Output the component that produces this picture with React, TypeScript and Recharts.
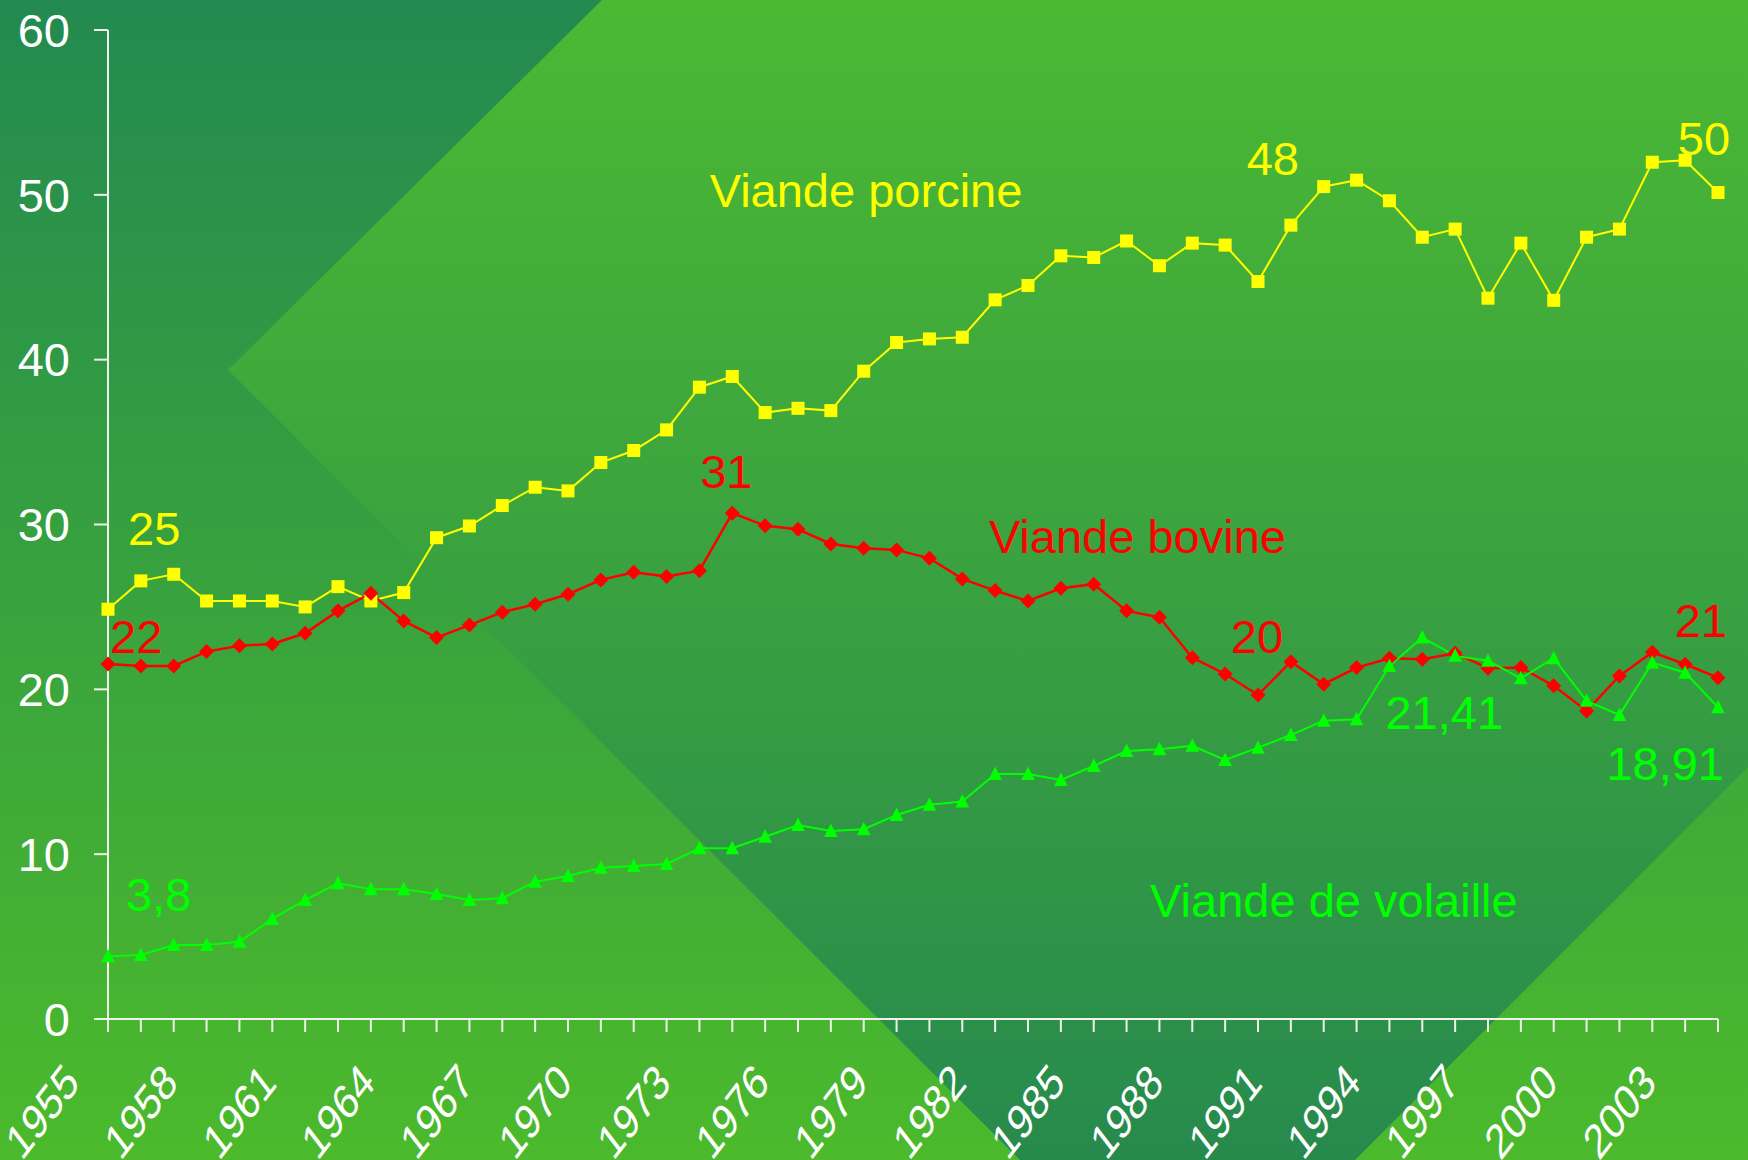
import React from 'react';
import { LineChart, Line, XAxis, YAxis, ReferenceDot } from 'recharts';

const years = [
  1955, 1956, 1957, 1958, 1959, 1960, 1961, 1962, 1963, 1964,
  1965, 1966, 1967, 1968, 1969, 1970, 1971, 1972, 1973, 1974,
  1975, 1976, 1977, 1978, 1979, 1980, 1981, 1982, 1983, 1984,
  1985, 1986, 1987, 1988, 1989, 1990, 1991, 1992, 1993, 1994,
  1995, 1996, 1997, 1998, 1999, 2000, 2001, 2002, 2003, 2004,
];

const porcine = [
  24.86, 26.58, 26.98, 25.36, 25.36, 25.36, 25.0, 26.23, 25.36, 25.87,
  29.2, 29.91, 31.15, 32.26, 32.04, 33.76, 34.49, 35.74, 38.33, 38.98,
  36.79, 37.05, 36.91, 39.3, 41.04, 41.26, 41.36, 43.63, 44.5, 46.3,
  46.2, 47.2, 45.7, 47.07, 46.95, 44.74, 48.16, 50.5, 50.89, 49.64,
  47.43, 47.92, 43.73, 47.07, 43.6, 47.43, 47.92, 51.98, 52.1, 50.14,
];

const bovine = [
  21.54, 21.42, 21.42, 22.29, 22.65, 22.75, 23.4, 24.76, 25.83, 24.15,
  23.14, 23.9, 24.68, 25.16, 25.77, 26.64, 27.1, 26.84, 27.2, 30.69,
  29.93, 29.71, 28.82, 28.56, 28.46, 27.95, 26.7, 25.99, 25.36, 26.13,
  26.38, 24.76, 24.37, 21.92, 20.93, 19.66, 21.68, 20.31, 21.32, 21.89,
  21.83, 22.19, 21.28, 21.32, 20.21, 18.69, 20.81, 22.25, 21.52, 20.71,
];

const volaille = [
  3.8, 3.88, 4.49, 4.49, 4.69, 6.07, 7.22, 8.23, 7.87, 7.87,
  7.58, 7.22, 7.32, 8.33, 8.68, 9.18, 9.28, 9.4, 10.36, 10.36,
  11.06, 11.77, 11.41, 11.51, 12.38, 13.0, 13.2, 14.87, 14.87, 14.5,
  15.35, 16.26, 16.36, 16.57, 15.72, 16.46, 17.23, 18.1, 18.18, 21.41,
  23.14, 22.03, 21.74, 20.67, 21.89, 19.3, 18.45, 21.62, 21.01, 18.91,
];

const yTicks = [0, 10, 20, 30, 40, 50, 60];
const xTickLabels = [
  '1955', '1958', '1961', '1964', '1967', '1970', '1973', '1976', '1979',
  '1982', '1985', '1988', '1991', '1994', '1997', '2000', '2003',
];

const porcineLabels = [
  { year: 1955, text: '25' },
  { year: 1991, text: '48' },
  { year: 2004, text: '50' },
];
const bovineLabels = [
  { year: 1955, text: '22' },
  { year: 1974, text: '31' },
  { year: 1990, text: '20' },
  { year: 2004, text: '21' },
];
const volailleLabels = [
  { year: 1955, text: '3,8' },
  { year: 1994, text: '21,41' },
  { year: 2004, text: '18,91' },
];

const seriesNames = ['Viande porcine', 'Viande bovine', 'Viande de volaille'];

const data = years.map((year, i) => ({
  year,
  porcine: porcine[i],
  bovine: bovine[i],
  volaille: volaille[i],
}));

const FONT = '"Liberation Sans", Arial, Helvetica, sans-serif';
const YELLOW = '#ffff00';
const RED = '#ff0000';
const GREEN = '#00ff00';
const AXIS = '#eef2ea';
const FS = 47;

// label offsets (style), keyed by series + text
const labelStyle: Record<string, { dx: number; dy: number; anchor: string }> = {
  'p-25': { dx: 20, dy: -64, anchor: 'start' },
  'p-48': { dx: -18, dy: -50, anchor: 'middle' },
  'p-50': { dx: -14, dy: -38, anchor: 'middle' },
  'b-22': { dx: 2, dy: -11, anchor: 'start' },
  'b-31': { dx: -6, dy: -25, anchor: 'middle' },
  'b-20': { dx: -1, dy: -42, anchor: 'middle' },
  'b-21': { dx: -17, dy: -41, anchor: 'middle' },
  'v-3,8': { dx: 18, dy: -45, anchor: 'start' },
  'v-21,41': { dx: -4, dy: 63, anchor: 'start' },
  'v-18,91': { dx: 6, dy: 73, anchor: 'end' },
};

// placement of the series names in data space (style)
const namePlacement = [
  { x: 1978.07, y: 50.3, color: YELLOW },
  { x: 1986.33, y: 29.29, color: RED },
  { x: 1992.31, y: 7.2, color: GREEN },
];

const makeLabel = (
  prefix: string,
  labels: { year: number; text: string }[],
  color: string
) => (props: any) => {
  const { x, y, index } = props;
  const yr = years[index];
  const l = labels.find((e) => e.year === yr);
  if (!l || x == null || y == null) return <g key={`${prefix}-e-${index}`} />;
  const s = labelStyle[`${prefix}-${l.text}`];
  return (
    <text
      key={`${prefix}-l-${index}`}
      x={x + s.dx}
      y={y + s.dy}
      textAnchor={s.anchor as any}
      fill={color}
      fontSize={FS}
      fontFamily={FONT}
    >
      {l.text}
    </text>
  );
};

const SquareDot = (props: any) => {
  const { cx, cy, index } = props;
  if (cx == null || cy == null) return <g key={`sq-${index}`} />;
  return <rect key={`sq-${index}`} x={cx - 6.5} y={cy - 6.5} width={13} height={13} fill={YELLOW} />;
};

const DiamondDot = (props: any) => {
  const { cx, cy, index } = props;
  if (cx == null || cy == null) return <g key={`dm-${index}`} />;
  const r = 7.5;
  return (
    <polygon
      key={`dm-${index}`}
      points={`${cx},${cy - r} ${cx + r},${cy} ${cx},${cy + r} ${cx - r},${cy}`}
      fill={RED}
    />
  );
};

const TriangleDot = (props: any) => {
  const { cx, cy, index } = props;
  if (cx == null || cy == null) return <g key={`tr-${index}`} />;
  return (
    <polygon
      key={`tr-${index}`}
      points={`${cx},${cy - 7.5} ${cx + 6.8},${cy + 6} ${cx - 6.8},${cy + 6}`}
      fill={GREEN}
    />
  );
};

const YTick = (props: any) => {
  const { x, y, payload } = props;
  return (
    <text x={x} y={y} dy="0.355em" textAnchor="end" fill="#ffffff" fontSize={FS} fontFamily={FONT}>
      {payload.value}
    </text>
  );
};

const XTick = (props: any) => {
  const { x, y, payload } = props;
  const label = String(payload.value);
  if (!xTickLabels.includes(label)) return <g />;
  const tx = x - 27;
  const ty = y + 51;
  return (
    <g transform={`translate(${tx},${ty}) scale(0.8,1.04) rotate(-45)`}>
      <text x={0} y={0} textAnchor="end" fill="#ffffff" fontSize={FS} fontFamily={FONT}>
        {label}
      </text>
    </g>
  );
};

const NameLabel = (text: string, color: string) => (props: any) => {
  const vb = props.viewBox || {};
  const cx = (vb.x ?? 0) + (vb.width ?? 0) / 2;
  const cy = (vb.y ?? 0) + (vb.height ?? 0) / 2;
  return (
    <text
      x={cx}
      y={cy}
      dy="0.355em"
      textAnchor="middle"
      fill={color}
      fontSize={FS}
      fontFamily={FONT}
    >
      {text}
    </text>
  );
};

const W = 1748;
const H = 1160;

export default function App() {
  return (
    <div style={{ position: 'absolute', left: 0, top: 0, width: W, height: H, overflow: 'hidden' }}>
      <svg width={W} height={H} style={{ position: 'absolute', left: 0, top: 0 }}>
        <defs>
          <linearGradient id="bgOuter" x1="0" y1="0" x2="0" y2={H} gradientUnits="userSpaceOnUse">
            <stop offset="0" stopColor="#238a50" />
            <stop offset="1" stopColor="#4cba2c" />
          </linearGradient>
          <linearGradient id="bgInner" x1="0" y1="0" x2="0" y2={H} gradientUnits="userSpaceOnUse">
            <stop offset="0" stopColor="#4bb933" />
            <stop offset="1" stopColor="#278a4d" />
          </linearGradient>
        </defs>
        <rect x={0} y={0} width={W} height={H} fill="url(#bgOuter)" />
        <polygon
          points="602,0 1748,0 1748,767 1355,1160 1020,1160 228,370"
          fill="url(#bgInner)"
        />
      </svg>
      <div style={{ position: 'absolute', left: 0, top: 0 }}>
        <LineChart
          width={W}
          height={H}
          data={data}
          margin={{ top: 30, right: 30, bottom: 0, left: 0 }}
        >
          <XAxis
            dataKey="year"
            type="number"
            domain={[1955, 2004]}
            ticks={years}
            interval={0}
            height={141}
            tickSize={13}
            tickMargin={2}
            axisLine={{ stroke: AXIS, strokeWidth: 2 }}
            tickLine={{ stroke: AXIS, strokeWidth: 2 }}
            tick={<XTick />}
          />
          <YAxis
            type="number"
            domain={[0, 60]}
            ticks={yTicks}
            width={108}
            tickSize={14}
            tickMargin={24}
            axisLine={{ stroke: AXIS, strokeWidth: 2 }}
            tickLine={{ stroke: AXIS, strokeWidth: 2 }}
            tick={<YTick />}
          />
          <Line
            dataKey="porcine"
            stroke={YELLOW}
            strokeWidth={2}
            dot={<SquareDot />}
            activeDot={false}
            isAnimationActive={false}
            label={makeLabel('p', porcineLabels, YELLOW)}
          />
          <Line
            dataKey="bovine"
            stroke={RED}
            strokeWidth={2.5}
            dot={<DiamondDot />}
            activeDot={false}
            isAnimationActive={false}
            label={makeLabel('b', bovineLabels, RED)}
          />
          <Line
            dataKey="volaille"
            stroke={GREEN}
            strokeWidth={2}
            dot={<TriangleDot />}
            activeDot={false}
            isAnimationActive={false}
            label={makeLabel('v', volailleLabels, GREEN)}
          />
          {namePlacement.map((p, i) => (
            <ReferenceDot
              key={seriesNames[i]}
              x={p.x}
              y={p.y}
              r={1}
              fill="none"
              stroke="none"
              label={NameLabel(seriesNames[i], p.color)}
            />
          ))}
        </LineChart>
      </div>
    </div>
  );
}
